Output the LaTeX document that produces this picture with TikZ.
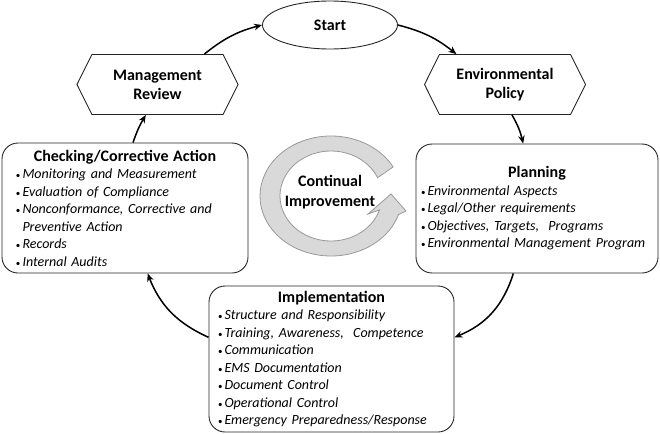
\documentclass[tikz,border=0pt]{standalone}
\usepackage{fontspec}
\setmainfont{Carlito}
\usetikzlibrary{shapes.geometric, shapes.symbols, arrows.meta, calc}

\newlength{\bulletwd}
\setlength{\bulletwd}{6.5pt}
\newcommand{\emsitem}[1]{\par\hangindent=\bulletwd\hangafter=1\noindent\makebox[\bulletwd][l]{\fontsize{9}{9}\selectfont\textbullet}\textit{#1}}
\newcommand{\emstitle}[1]{{\centering\fontsize{16}{19}\selectfont\bfseries #1\par}}

\begin{document}
\begin{tikzpicture}[x=1pt, y=1pt,
    stagebox/.style={draw=black!85, line width=0.9pt, rounded corners=16pt, align=left,
                     inner sep=0pt, font=\fontsize{14}{17.5}\selectfont},
    hexbox/.style={signal, signal to=west and east, signal pointer angle=127, draw=black!85,
                   line width=0.9pt, minimum width=161, minimum height=60, inner sep=0pt,
                   align=center, font=\fontsize{16}{19}\selectfont\bfseries},
    ring/.style={fill=black!15, draw=black!40, line width=0.8pt},
    cyclearrow/.style={-{Stealth[length=8pt, width=6.5pt]}, line width=1.5pt}]
  \useasboundingbox (0,0) rectangle (660,-433);

  % continual improvement ring
  \draw[ring] ($(331,-196)+(29:71 and 60)$)
      arc[start angle=29, end angle=342, x radius=71, y radius=60]
      -- (406,-211) -- (391,-194) -- (368,-214)
      -- ($(331,-196)+(342:51 and 45)$)
      arc[start angle=342, end angle=24, x radius=51, y radius=45] -- cycle;
  \node[align=center, font=\fontsize{16}{20}\selectfont\bfseries] (ci) at (330,-192) {Continual\\Improvement};

  % cycle stages
  \node[ellipse, draw=black!85, line width=0.9pt, minimum width=135, minimum height=48,
        inner sep=0pt, font=\fontsize{16}{19}\selectfont\bfseries] (start) at (330,-25) {Start};
  \node[hexbox] (mgmt)   at (157.5,-84.5) {Management\\Review};
  \node[hexbox] (policy) at (505,-84.5)   {Environmental\\Policy};

  \node[stagebox, minimum width=246, minimum height=130, text width=218] (check) at (125,-208) {%
    \emstitle{Checking/Corrective Action}%
    \emsitem{Monitoring and Measurement}%
    \emsitem{Evaluation of Compliance}%
    \emsitem{Nonconformance, Corrective and\newline Preventive Action}%
    \emsitem{Records}%
    \emsitem{Internal Audits}};
  \node[stagebox, minimum width=242, minimum height=129, text width=232] (plan) at (537,-208.5) {%
    \emstitle{Planning}%
    \emsitem{Environmental Aspects}%
    \emsitem{Legal/Other requirements}%
    \emsitem{Objectives, Targets, ~Programs}%
    \emsitem{Environmental Management Program}};
  \node[stagebox, minimum width=245, minimum height=146, text width=227] (impl) at (331.5,-359) {%
    \emstitle{Implementation}%
    \emsitem{Structure and Responsibility}%
    \emsitem{Training, Awareness, ~Competence}%
    \emsitem{Communication}%
    \emsitem{EMS Documentation}%
    \emsitem{Document Control}%
    \emsitem{Operational Control}%
    \emsitem{Emergency Preparedness/Response}};

  \path[cyclearrow]
     (mgmt.33)    edge[bend left=12] (start.west)
     (start.east) edge[bend left=12] (policy.148)
     (policy.-77) edge[bend left=8]  (plan.102)
     (plan.250)   edge[bend left=25] (impl.10)
     (impl.170)   edge[bend left=22] (check.-71)
     (check.83)   edge[bend left=6]  (mgmt.249);
\end{tikzpicture}
\end{document}
